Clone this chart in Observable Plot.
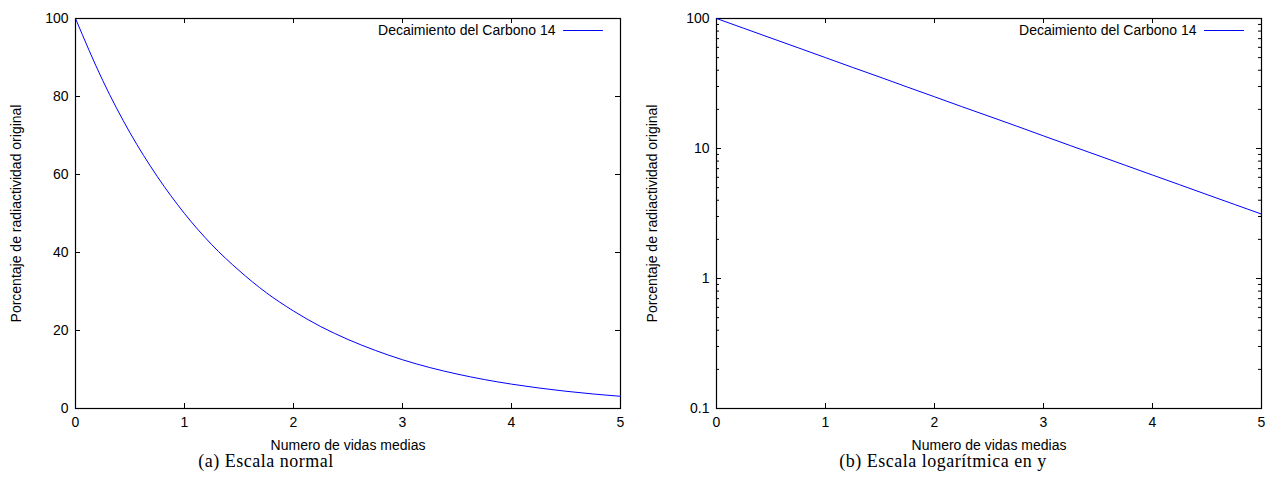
<!DOCTYPE html>
<html>
<head>
<meta charset="utf-8">
<script src="https://cdn.jsdelivr.net/npm/d3@7"></script>
<script src="https://cdn.jsdelivr.net/npm/@observablehq/plot@0.6"></script>
<style>
  html, body { margin: 0; padding: 0; background: #fff; }
  #wrap { position: relative; width: 1271px; height: 485px; overflow: hidden; }
  .panel { position: absolute; top: 0; }
  .cap { position: absolute; top: 451px; transform: translateX(-50%); white-space: nowrap;
         font-family: "Liberation Serif", "DejaVu Serif", serif; font-size: 18px; letter-spacing: 0.5px; color: #000; }
</style>
</head>
<body>
<div id="wrap">
  <div class="panel" id="pa" style="left:0px"></div>
  <div class="panel" id="pb" style="left:636px"></div>
  <div class="cap" style="left:266px">(a) Escala normal</div>
  <div class="cap" style="left:943px">(b) Escala logarítmica en y</div>
</div>
<script>
// Values
const halfLives = [0, 0.25, 0.5, 0.75, 1, 1.25, 1.5, 1.75, 2, 2.25, 2.5, 2.75, 3, 3.25, 3.5, 3.75, 4, 4.25, 4.5, 4.75, 5];
const percent   = [100, 84.1, 70.7, 59.5, 50, 42.0, 35.4, 29.7, 25, 21.0, 17.7, 14.9, 12.5, 10.5, 8.84, 7.43, 6.25, 5.26, 4.42, 3.72, 3.13];
const xTicks = [0, 1, 2, 3, 4, 5];
const yTicksLinear = [0, 20, 40, 60, 80, 100];
const yTicksLog = [0.1, 1, 10, 100];
const yMinorLog = [0.2,0.3,0.4,0.5,0.6,0.7,0.8,0.9, 2,3,4,5,6,7,8,9, 20,30,40,50,60,70,80,90];
const seriesName = "Decaimiento del Carbono 14";
const xLabel = "Numero de vidas medias";
const yLabel = "Porcentaje de radiactividad original";

const data = halfLives.map((x, i) => ({x, y: percent[i]}));

const lineShape = { draw(ctx, l) { ctx.moveTo(0, 0); ctx.lineTo(0, -l); } };

function makePanel(opts) {
  const H = 462, mt = 18, mb = 54;
  const innerH = H - mt - mb;
  const innerW = opts.width - opts.ml - opts.mr;
  const major = 5, minor = 3;
  const marks = [
    Plot.frame({stroke: "#000", strokeWidth: 1.2}),
    // inward mirrored x ticks
    Plot.ruleX(xTicks, {x: d => d, insetTop: innerH - major, stroke: "#000"}),
    Plot.ruleX(xTicks, {x: d => d, insetBottom: innerH - major, stroke: "#000"}),
    // inward mirrored y ticks
    Plot.ruleY(opts.yTicks, {y: d => d, insetRight: innerW - major, stroke: "#000"}),
    Plot.ruleY(opts.yTicks, {y: d => d, insetLeft: innerW - major, stroke: "#000"}),
  ];
  if (opts.yMinor) {
    marks.push(Plot.ruleY(opts.yMinor, {y: d => d, insetRight: innerW - minor, stroke: "#000"}));
    marks.push(Plot.ruleY(opts.yMinor, {y: d => d, insetLeft: innerW - minor, stroke: "#000"}));
  }
  marks.push(
    Plot.axisX({ticks: xTicks, tickSize: 0, tickPadding: 9, tickFormat: d => String(d), fontSize: 14,
                label: xLabel, labelAnchor: "center", labelArrow: "none", labelOffset: 41}),
    Plot.axisY({ticks: opts.yTicks, tickSize: 0, tickPadding: 7, tickFormat: d => String(d), fontSize: 14,
                label: yLabel, labelAnchor: "center", labelArrow: "none", labelOffset: opts.ml - 11}),
    Plot.line(data, {x: "x", y: "y", stroke: "#0000ff", strokeWidth: 1, curve: "monotone-x"}),
    Plot.text([seriesName], {frameAnchor: "top-right", dx: -65, dy: 12, textAnchor: "end", lineAnchor: "middle", fill: "#000", fontSize: 14}),
    Plot.vector([0], {frameAnchor: "top-right", dx: -57, dy: 12, length: 39, rotate: 90, anchor: "start",
                      shape: lineShape, stroke: "#0000ff", strokeWidth: 1})
  );
  return Plot.plot({
    width: opts.width, height: H,
    marginLeft: opts.ml, marginRight: opts.mr, marginTop: mt, marginBottom: mb,
    style: {fontFamily: "'Liberation Sans', Arial, sans-serif", fontSize: "14px", color: "#000", background: "transparent"},
    x: {domain: [0, 5]},
    y: opts.y,
    marks
  });
}

document.getElementById("pa").appendChild(makePanel({
  width: 636, ml: 75, mr: 16,
  y: {domain: [0, 100]},
  yTicks: yTicksLinear
}));
document.getElementById("pb").appendChild(makePanel({
  width: 635, ml: 80, mr: 10,
  y: {type: "log", domain: [0.1, 100]},
  yTicks: yTicksLog, yMinor: yMinorLog
}));
</script>
</body>
</html>
